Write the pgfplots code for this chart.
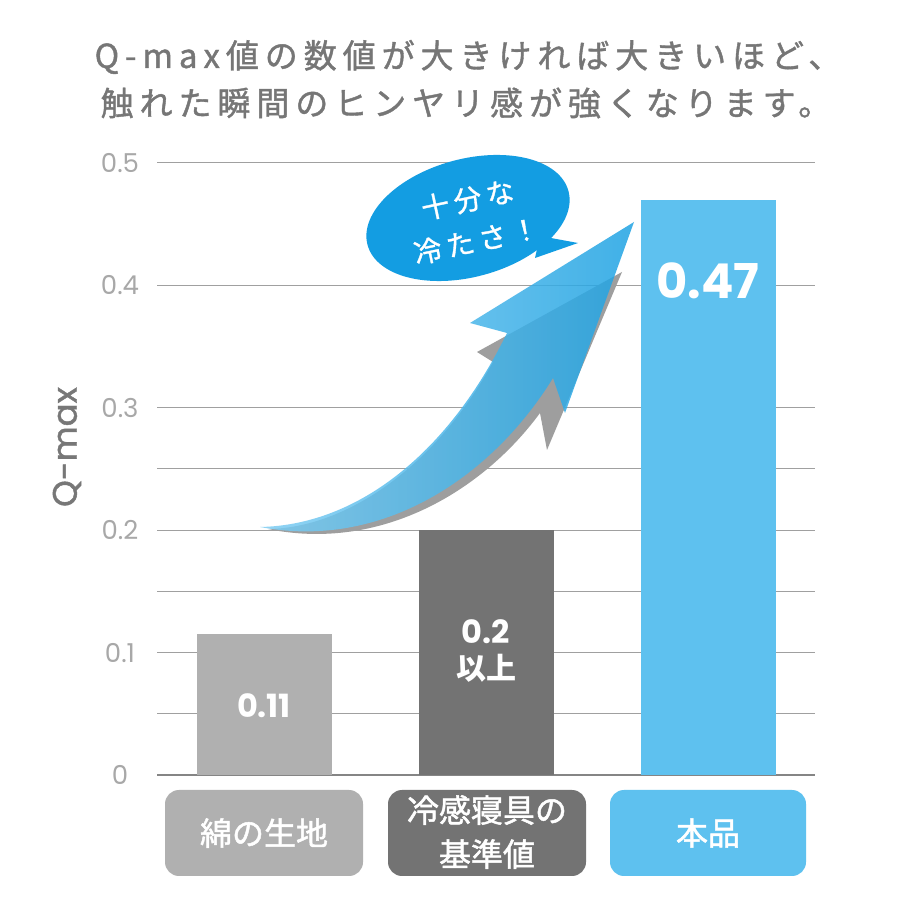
\documentclass[border=0pt]{standalone}
\usepackage{pgfplots}
\pgfplotsset{compat=1.18}
\usepackage{fontspec}
\setmainfont{Poppins}
\newfontfamily\jp{Noto Sans CJK JP}[FakeBold=1.5]
\newfontfamily\jpb{Noto Sans CJK JP}
\newfontfamily\jpsp{Noto Sans CJK JP}[LetterSpace=18, FakeBold=1.2]
\newfontfamily\qfont{Poppins}[FakeBold=1.2]
\definecolor{barA}{HTML}{B0B0B0}
\definecolor{barB}{HTML}{737373}
\definecolor{barC}{HTML}{5EC1EF}
\definecolor{gridc}{HTML}{A0A0A0}
\definecolor{basec}{HTML}{858585}
\definecolor{tickc}{HTML}{A8A8A8}
\definecolor{titlec}{HTML}{767676}
\definecolor{qc}{HTML}{777777}
\definecolor{bubc}{HTML}{139DE2}
\definecolor{arrL}{HTML}{7FCDF2}
\definecolor{arrR}{HTML}{1FA3E3}
\definecolor{shad}{HTML}{9E9E9E}
\begin{document}
\begin{tikzpicture}
\fill[white] (0,0) rectangle (450pt,450pt);
\path[use as bounding box] (0,0) rectangle (450pt,450pt);
\begin{axis}[
  at={(78.5pt,62.5pt)}, anchor=south west,
  scale only axis, width=329pt, height=306pt,
  xmin=-0.482, xmax=2.482, ymin=0, ymax=0.5,
  axis line style={draw=none},
  xtick=\empty,
  ytick={0,0.1,0.2,0.3,0.4,0.5},
  yticklabels={0,0.1,0.2,0.3,0.4,0.5},
  extra y ticks={0.05,0.15,0.25},
  extra y tick labels={},
  major tick length=0pt,
  ymajorgrids,
  grid style={gridc, line width=0.5pt},
  extra y tick style={grid style={gridc, line width=0.5pt}},
  yticklabel style={font=\fontsize{13}{13}\selectfont, text=tickc, anchor=center, xshift=-18.5pt},
  clip=false,
]
\draw[basec, line width=1pt] (axis cs:-0.482,0) -- (axis cs:2.482,0);
\addplot[ybar, bar width=67.5pt, bar shift=0pt, fill=barA, draw=none] coordinates {(0,0.115)};
\addplot[ybar, bar width=67.5pt, bar shift=0pt, fill=barB, draw=none] coordinates {(1,0.2)};
\addplot[ybar, bar width=67.5pt, bar shift=0pt, fill=barC, draw=none] coordinates {(2,0.47)};
\node[white, font=\bfseries\fontsize{16}{16}\selectfont] at (axis cs:0,0.057) {0.11};
\node[white, font=\bfseries\fontsize{16}{16}\selectfont] at (axis cs:1,0.117) {0.2};
\node[white, font=\jpb\bfseries\fontsize{15}{15}\selectfont] at (axis cs:1,0.087) {以上};
\node[white, font=\bfseries\fontsize{24}{24}\selectfont] at (axis cs:2,0.404) {0.47};
\end{axis}
\begin{scope}[x=0.5pt, y=-0.5pt, shift={(0pt,450pt)}]
% title
\node[text=titlec, font=\jpsp\fontsize{16.5}{16.5}\selectfont] at (468,57) {Q-max値の数値が大きければ大きいほど、};
\node[text=titlec, font=\jpsp\fontsize{16.5}{16.5}\selectfont] at (466,103) {触れた瞬間のヒンヤリ感が強くなります。};
% y label
\node[rotate=90, text=qc, font=\qfont\fontsize{17}{17}\selectfont] at (67,447) {Q-max};
% category boxes
\fill[barA, rounded corners=7pt] (165,790) rectangle (363,876);
\fill[barB, rounded corners=7pt] (388,790) rectangle (586,876);
\fill[barC, rounded corners=7pt] (610,790) rectangle (806,876);
\node[white, font=\jp\fontsize{16}{22}\selectfont] at (264,833) {綿の生地};
\node[white, align=center, font=\jp\fontsize{16}{22}\selectfont] at (487,832) {冷感寝具の\\基準値};
\node[white, font=\jp\fontsize{16}{22}\selectfont] at (708,833) {本品};
% shadow arrow
\fill[shad] (268,529) .. controls (345,528) and (435,468) .. (493,362)
  -- (477,352) -- (622,272) -- (547,450) -- (540,413)
  .. controls (482,492) and (380,552) .. (268,529) -- cycle;
% blue arrow
\shade[left color=arrL, right color=arrR, fill opacity=0.85]
  (260,527) .. controls (360,525) and (450,450) .. (507,333)
  -- (470,323) -- (634,222) -- (565,413) -- (553,378)
  .. controls (490,480) and (380,550) .. (260,527) -- cycle;
% speech bubble
\fill[bubc, rotate around={15:(468,218)}] (468,218) ellipse [x radius=104, y radius=59];
\fill[bubc] (540,236) -- (578,243) -- (535,258) -- cycle;
\node[white, rotate=12, align=center, font=\jpsp\fontsize{14}{21}\selectfont] at (472,220) {十分な\\冷たさ！};
\end{scope}
\end{tikzpicture}
\end{document}
